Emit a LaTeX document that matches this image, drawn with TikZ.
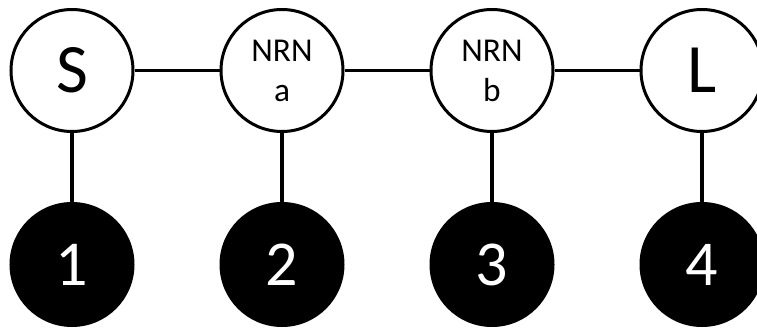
\documentclass[tikz,border=0pt]{standalone}
\usepackage{fontspec}
\setmainfont{Carlito}
\begin{document}
\begin{tikzpicture}[x=0.75pt,y=-0.75pt,
  state/.style={circle,draw=black,line width=2.25pt,fill=white,inner sep=0pt,minimum size=91.5pt,align=center},
  obs/.style={circle,draw=black,line width=2.25pt,fill=black,text=white,inner sep=0pt,minimum size=91.5pt,font=\fontsize{48}{48}\selectfont},
  big/.style={font=\fontsize{52}{52}\selectfont},
  small/.style={font=\fontsize{25}{30}\selectfont},
  link/.style={line width=2.5pt}]
\useasboundingbox (0,0) rectangle (757,328);
% hidden states
\node[state,big] (S) at (72,70.5) {S};
\node[state,small] (A) at (282,70.5) {NRN\\a};
\node[state,small] (B) at (492,70.5) {NRN\\b};
\node[state,big] (L) at (702,70.5) {L};
% observations
\node[obs] (o1) at (72,264.5) {1};
\node[obs] (o2) at (282,264.5) {2};
\node[obs] (o3) at (492,264.5) {3};
\node[obs] (o4) at (702,264.5) {4};
% chain and emission links
\draw[link] (S) -- (A);
\draw[link] (A) -- (B);
\draw[link] (B) -- (L);
\draw[link] (S) -- (o1);
\draw[link] (A) -- (o2);
\draw[link] (B) -- (o3);
\draw[link] (L) -- (o4);
\end{tikzpicture}
\end{document}
